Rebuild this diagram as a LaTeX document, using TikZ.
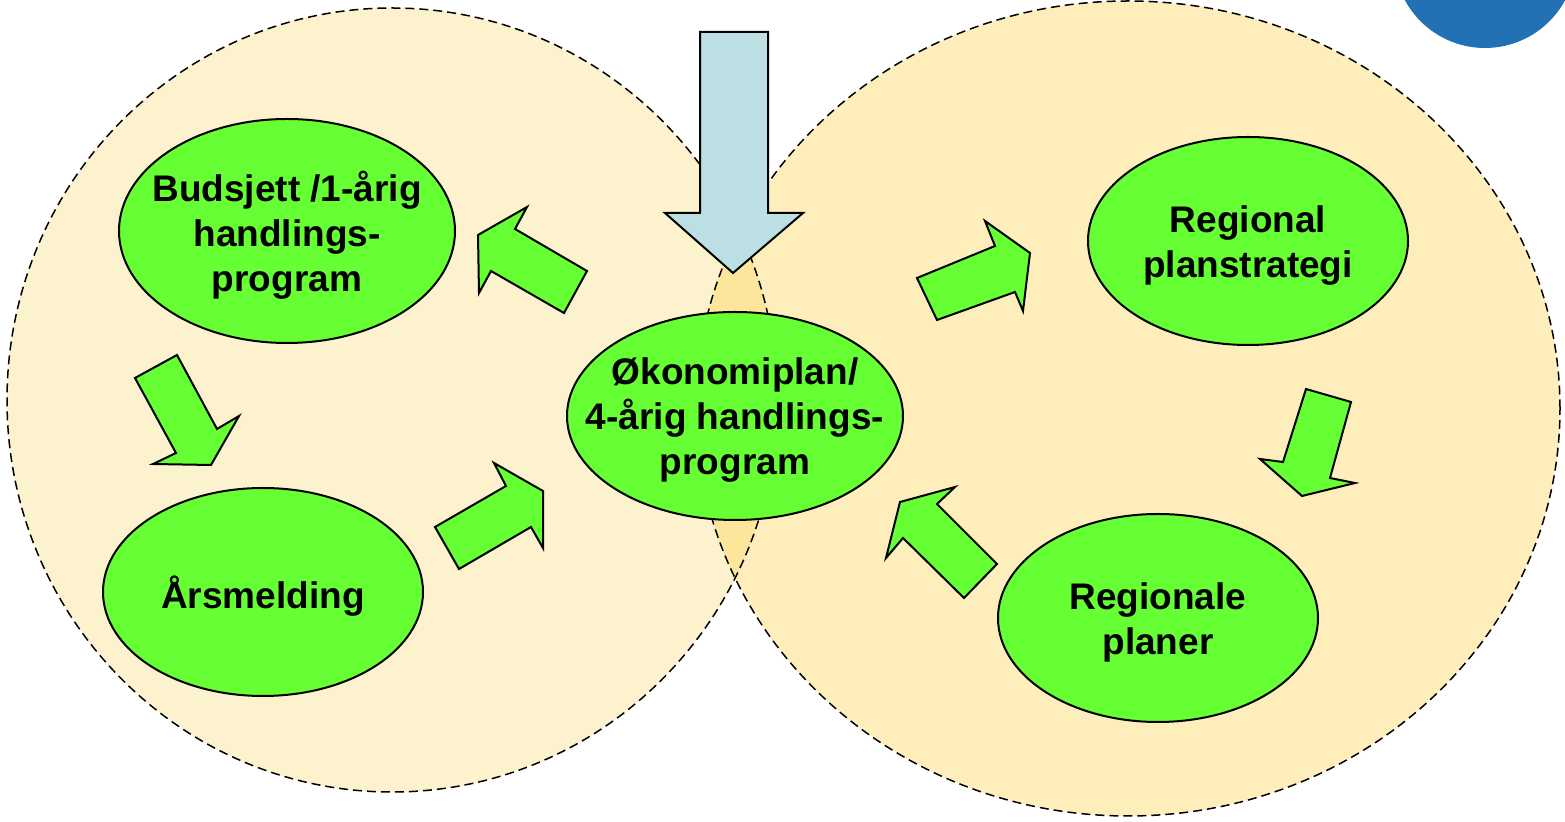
\documentclass[tikz,border=0pt]{standalone}
\usepackage{fontspec}
\setmainfont{Liberation Sans}
\usetikzlibrary{shapes.geometric}

\definecolor{planGreen}{HTML}{66FF33}
\definecolor{leftZone}{HTML}{FCF2CD}
\definecolor{rightZone}{HTML}{FEEEBC}
\definecolor{overlapZone}{HTML}{FDE69B}
\definecolor{arrowBlue}{HTML}{BBDFE3}
\definecolor{cornerBlue}{HTML}{2271B5}

\tikzset{
  plan/.style={ellipse, draw, line width=1pt, fill=planGreen, inner sep=0pt},
  plantext/.style={align=center, inner sep=0pt, yshift=-2.2pt,
    font=\fontsize{18.5}{22.5}\selectfont\bfseries},
  blockarrow/.style={draw, line width=1pt, fill=planGreen, line join=miter},
  sone/.style={draw, line width=0.75pt, dash pattern=on 4.5pt off 2.5pt},
}

\begin{document}
\begin{tikzpicture}[x=0.5pt, y=-0.5pt]
	\useasboundingbox (0,0) rectangle (1565,822);

	% the two zones
	\fill[leftZone] (392,400) ellipse [x radius=192.5pt, y radius=196pt];
	\fill[rightZone] (1128,408.5) ellipse [x radius=216pt, y radius=203.75pt];
	\begin{scope}
		\clip (392,400) ellipse [x radius=192.5pt, y radius=196pt];
		\fill[overlapZone] (1128,408.5) ellipse [x radius=216pt, y radius=203.75pt];
	\end{scope}
	\draw[sone] (392,400) ellipse [x radius=192.5pt, y radius=196pt];
	\draw[sone] (1128,408.5) ellipse [x radius=216pt, y radius=203.75pt];

	% corner mark
	\begin{scope}
		\clip (0,0) rectangle (1565,822);
		\fill[cornerBlue] (1485,-43) circle [radius=45.5pt];
	\end{scope}

	% plans
	\node[plan, minimum width=168pt, minimum height=112pt] (budsjett) at (287,231) {};
	\node[plantext] (budsjett text) at (budsjett) {Budsjett /1-årig\\handlings-\\program};
	\node[plan, minimum width=160pt, minimum height=104pt] (aarsmelding) at (263,592) {};
	\node[plantext] (aarsmelding text) at (aarsmelding) {Årsmelding};
	\node[plan, minimum width=168pt, minimum height=104pt] (okonomiplan) at (735,416) {};
	\node[plantext] (okonomiplan text) at (okonomiplan) {Økonomiplan/\\4-årig handlings-\\program};
	\node[plan, minimum width=160pt, minimum height=104pt] (planstrategi) at (1248,241) {};
	\node[plantext] (planstrategi text) at (planstrategi) {Regional\\planstrategi};
	\node[plan, minimum width=160pt, minimum height=104pt] (planer) at (1158,618) {};
	\node[plantext] (planer text) at (planer) {Regionale\\planer};

	% input from above
	\draw[line width=1pt, fill=arrowBlue, line join=miter]
		(700,32) -- (768,32) -- (768,213) -- (803,213) -- (733,273) -- (665,213) -- (700,213) -- cycle;

	% cycle arrows
	\draw[blockarrow] (478,235) -- (527,207) -- (515,229) -- (587,271) -- (564,313) -- (491,271) -- (479,293) -- cycle;
	\draw[blockarrow] (135,378) -- (177,355) -- (217,429) -- (239,416) -- (211,465) -- (153,464) -- (176,453) -- cycle;
	\draw[blockarrow] (543,491) -- (494,463) -- (506,486) -- (435,527) -- (459,569) -- (531,527) -- (543,548) -- cycle;
	\draw[blockarrow] (1030,253) -- (985,221) -- (995,246) -- (917,278) -- (937,320) -- (1015,292) -- (1023,311) -- cycle;
	\draw[blockarrow] (1302,496) -- (1355,483) -- (1330,478) -- (1351,402) -- (1306,389) -- (1283,462) -- (1260,459) -- cycle;
	\draw[blockarrow] (886,558) -- (900,502) -- (955,487) -- (937,504) -- (997,564) -- (964,598) -- (903,538) -- cycle;
\end{tikzpicture}
\end{document}
